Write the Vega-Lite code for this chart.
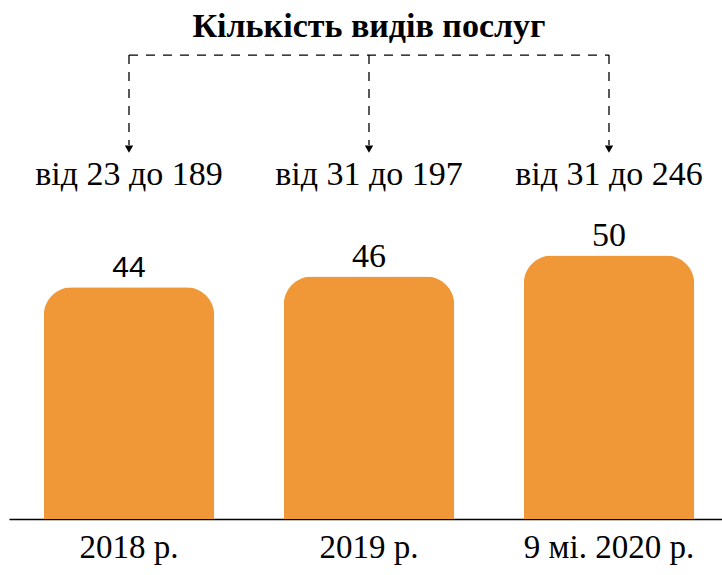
{
  "$schema": "https://vega.github.io/schema/vega-lite/v6.json",
  "width": 720,
  "height": 519,
  "autosize": {"type": "none"},
  "padding": {"left": 9, "top": 0, "right": 0, "bottom": 56},
  "background": "white",
  "config": {
    "view": {"stroke": null},
    "axisX": {
      "title": null,
      "labelAngle": 0,
      "labelFont": "Liberation Serif",
      "labelFontSize": 33,
      "labelLimit": 0,
      "labelColor": "#000000",
      "labelPadding": 12,
      "ticks": false,
      "domainColor": "#000000",
      "domainWidth": 1.5,
      "domainOpacity": 1
    }
  },
  "data": {
    "values": [
      {"period": "2018 р.", "count": 44, "range": "від 23 до 189"},
      {"period": "2019 р.", "count": 46, "range": "від 31 до 197"},
      {"period": "9 мі. 2020 р.", "count": 50, "range": "від 31 до 246"}
    ]
  },
  "encoding": {
    "x": {
      "field": "period",
      "type": "nominal",
      "sort": null,
      "scale": {"paddingInner": 0.29, "paddingOuter": 0.145}
    }
  },
  "layer": [
    {
      "mark": {"type": "bar", "color": "#F09838", "cornerRadiusTopLeft": 28, "cornerRadiusTopRight": 28},
      "encoding": {
        "y": {"field": "count", "type": "quantitative", "scale": {"domain": [0, 98.5], "nice": false}, "axis": null}
      }
    },
    {
      "transform": [{"filter": "datum.period === '2018 р.'"}],
      "mark": {"type": "text", "font": "Liberation Sans", "fontSize": 30, "baseline": "alphabetic", "dy": -10, "color": "#000000"},
      "encoding": {
        "y": {"field": "count", "type": "quantitative"},
        "text": {"field": "count", "type": "quantitative"}
      }
    },
    {
      "transform": [{"filter": "datum.period !== '2018 р.'"}],
      "mark": {"type": "text", "font": "Liberation Serif", "fontSize": 34, "baseline": "alphabetic", "dy": -10, "color": "#000000"},
      "encoding": {
        "y": {"field": "count", "type": "quantitative"},
        "text": {"field": "count", "type": "quantitative"}
      }
    },
    {
      "mark": {"type": "text", "font": "Liberation Serif", "fontSize": 34, "baseline": "middle", "color": "#000000"},
      "encoding": {
        "y": {"datum": 65.3, "type": "quantitative"},
        "text": {"field": "range", "type": "nominal"}
      }
    },
    {
      "mark": {"type": "rule", "strokeDash": [9, 8], "strokeWidth": 1.3, "color": "#000000"},
      "encoding": {
        "y": {"datum": 88.05, "type": "quantitative"},
        "y2": {"datum": 71.0}
      }
    },
    {
      "mark": {"type": "point", "shape": "triangle-down", "filled": true, "size": 70, "color": "#000000", "opacity": 1},
      "encoding": {
        "y": {"datum": 70.2, "type": "quantitative"}
      }
    },
    {
      "transform": [{"filter": "datum.period === '2019 р.'"}],
      "mark": {"type": "text", "font": "Liberation Serif", "fontSize": 34, "fontWeight": "bold", "baseline": "middle", "color": "#000000", "text": "Кількість видів послуг"},
      "encoding": {
        "y": {"datum": 93.4, "type": "quantitative"}
      }
    },
    {
      "data": {"values": [{"from": "2018 р.", "to": "9 мі. 2020 р."}]},
      "mark": {"type": "rule", "strokeDash": [9, 8], "strokeWidth": 1.3, "color": "#000000"},
      "encoding": {
        "x": {"field": "from", "type": "nominal"},
        "x2": {"field": "to"},
        "y": {"datum": 88.05, "type": "quantitative"}
      }
    }
  ]
}
